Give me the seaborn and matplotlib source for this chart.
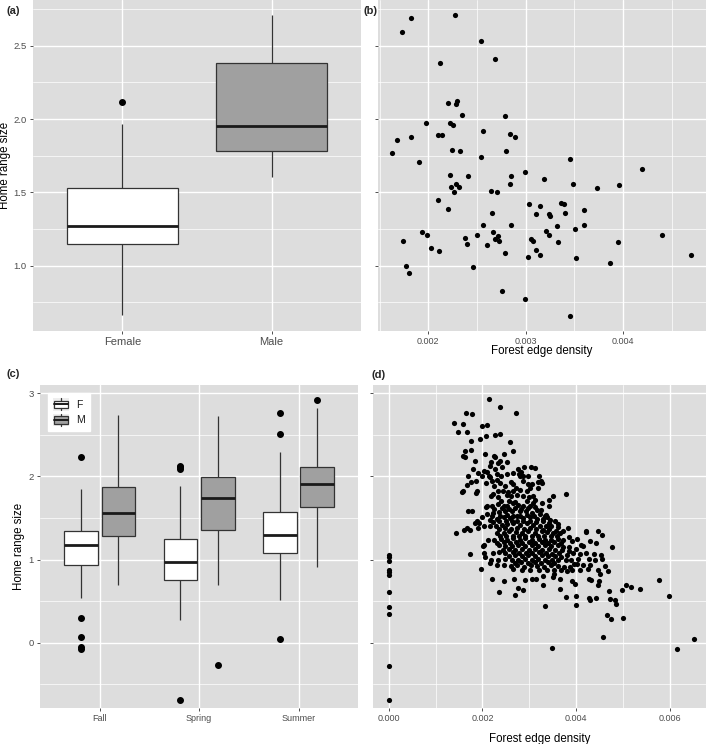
import numpy as np
import pandas as pd
import matplotlib
matplotlib.use("Agg")
import matplotlib.pyplot as plt
import seaborn as sns
from matplotlib.legend_handler import HandlerBase
from matplotlib.patches import Rectangle, Patch
from matplotlib.lines import Line2D
from matplotlib.ticker import FixedLocator, FormatStrFormatter, NullFormatter

# ---------------- data ----------------
# (a) home range size by sex: [lower whisker, Q1, median, Q3, upper whisker]
sex_labels = ["Female", "Male"]
a_female_stats = [0.664, 1.148, 1.270, 1.532, 1.966]
a_female_outliers = [2.116]
a_male_stats = [1.607, 1.780, 1.955, 2.380, 2.709]
a_male_outliers = []

# (b) forest edge density (x 1e-3) vs home range size
b_edge_milli = [1.82, 1.73, 2.27, 2.54, 2.69, 2.12, 2.20, 2.28, 2.30, 2.35, 2.79, 1.98, 2.22, 2.25,
                1.68, 1.82, 2.10, 2.14, 2.56, 2.84, 2.89, 1.63, 2.24, 2.33, 2.80, 2.54, 1.90, 3.46,
                2.99, 4.20, 2.22, 2.41, 2.85, 3.19, 2.23, 2.28, 2.32, 2.26, 2.84, 3.49, 3.73, 3.96,
                2.64, 2.71, 2.10, 2.20, 3.03, 3.15, 3.36, 3.39, 2.65, 3.11, 3.24, 3.25, 3.40, 3.60,
                2.56, 2.85, 3.60, 3.32, 3.51, 3.21, 1.94, 1.99, 2.67, 2.50, 2.38, 2.72, 2.69, 2.73,
                3.24, 3.06, 3.08, 1.74, 2.40, 3.33, 3.95, 4.40, 2.03, 2.11, 2.60, 3.11, 2.79, 3.02,
                3.15, 3.52, 4.70, 3.87, 1.77, 2.46, 1.80, 2.76, 2.99, 3.46]
b_home_range = [2.69, 2.59, 2.71, 2.53, 2.41, 2.38, 2.11, 2.10, 2.12, 2.03, 2.02, 1.97, 1.97, 1.96,
                1.86, 1.88, 1.89, 1.89, 1.92, 1.90, 1.88, 1.77, 1.79, 1.78, 1.78, 1.74, 1.71, 1.73,
                1.64, 1.66, 1.62, 1.61, 1.61, 1.59, 1.54, 1.56, 1.54, 1.50, 1.56, 1.56, 1.53, 1.55,
                1.51, 1.50, 1.45, 1.39, 1.42, 1.41, 1.43, 1.42, 1.36, 1.35, 1.35, 1.34, 1.36, 1.38,
                1.28, 1.28, 1.28, 1.27, 1.25, 1.24, 1.23, 1.21, 1.23, 1.21, 1.19, 1.20, 1.18, 1.17,
                1.21, 1.18, 1.17, 1.17, 1.15, 1.16, 1.16, 1.21, 1.12, 1.10, 1.14, 1.11, 1.09, 1.06,
                1.07, 1.05, 1.07, 1.02, 1.00, 0.99, 0.95, 0.83, 0.77, 0.66]

# (c) seasonal home range by sex
seasons = ["Fall", "Spring", "Summer"]
sex_codes = ["F", "M"]
c_F_stats = {"Fall": [0.538, 0.940, 1.180, 1.344, 1.854],
             "Spring": [0.278, 0.760, 0.976, 1.244, 1.886],
             "Summer": [0.514, 1.084, 1.296, 1.573, 2.295]}
c_F_outliers = {"Fall": [2.235, 0.297, 0.072, -0.056, -0.076],
                "Spring": [2.13, 2.11, 2.09, -0.693],
                "Summer": [2.767, 2.51, 0.04]}
c_M_stats = {"Fall": [0.700, 1.280, 1.566, 1.870, 2.745],
             "Spring": [0.700, 1.356, 1.747, 1.990, 2.733],
             "Summer": [0.910, 1.633, 1.915, 2.120, 2.828]}
c_M_outliers = {"Fall": [], "Spring": [-0.272], "Summer": [2.923]}

# (d) forest edge density (x 1e-3) vs seasonal home range size
d_edge_milli = [2.13, 2.37, 2.71, 1.65, 1.77, 1.40, 1.59, 2.00, 2.10, 1.48, 1.68, 2.08, 2.27, 2.38,
                1.94, 1.76, 2.59, 1.63, 1.75, 1.59, 1.62, 2.06, 2.25, 2.27, 2.64, 2.46, 2.38, 1.85,
                2.19, 2.32, 2.15, 2.52, 1.79, 2.03, 2.09, 2.26, 2.42, 2.76, 2.83, 2.89, 3.04, 3.11,
                1.70, 1.90, 2.00, 2.13, 2.16, 2.31, 2.39, 2.52, 2.64, 2.78, 2.80, 2.87, 2.96, 3.21,
                3.24, 1.58, 1.56, 1.68, 1.76, 1.86, 1.88, 1.87, 2.08, 2.21, 2.25, 2.31, 2.37, 2.47,
                2.60, 2.66, 2.71, 2.86, 2.97, 3.01, 3.06, 3.18, 3.27, 3.18, 3.08, 2.94, 2.80, 2.66,
                2.55, 2.43, 2.32, 2.22, 2.19, 2.34, 2.52, 2.61, 2.74, 2.86, 2.99, 3.42, 3.50, 3.78,
                2.10, 2.08, 2.20, 2.33, 2.45, 2.53, 2.66, 2.76, 2.87, 3.02, 3.08, 3.26, 3.42, 1.69,
                1.77, 2.10, 2.23, 2.36, 2.48, 2.63, 2.79, 2.92, 3.06, 3.16, 3.33, 3.38, 2.00, 2.16,
                2.30, 2.45, 2.59, 2.73, 2.87, 3.01, 3.16, 3.28, 3.44, 3.54, 1.88, 1.83, 1.93, 1.68,
                1.61, 1.73, 1.44, 1.91, 2.03, 2.16, 2.29, 2.41, 2.53, 2.66, 2.80, 2.94, 3.08, 3.23,
                3.35, 3.47, 3.60, 3.82, 4.20, 4.21, 4.46, 4.54, 2.30, 2.45, 2.57, 2.71, 2.84, 2.98,
                3.13, 3.26, 3.38, 3.51, 3.65, 2.12, 2.25, 2.39, 2.52, 2.66, 2.79, 2.91, 3.06, 3.20,
                3.33, 3.47, 3.60, 3.72, 4.01, 4.09, 4.29, 4.42, 4.77, 2.04, 2.02, 2.35, 2.49, 2.62,
                2.76, 2.91, 3.05, 3.19, 3.33, 3.46, 3.60, 3.72, 3.85, 3.99, 4.15, 1.73, 2.03, 2.22,
                2.36, 2.49, 2.64, 2.78, 2.92, 3.06, 3.21, 3.35, 3.49, 3.64, 3.80, 3.92, 4.08, 4.21,
                4.38, 4.53, 2.05, 2.18, 2.32, 2.48, 2.62, 2.76, 2.91, 3.05, 3.19, 3.33, 3.48, 3.62,
                3.77, 3.89, 4.03, 4.26, 4.40, 4.54, 1.96, 2.17, 2.30, 2.46, 2.60, 2.74, 2.89, 3.03,
                3.17, 3.31, 3.45, 3.60, 3.74, 3.87, 4.01, 4.15, 4.29, 4.61, 4.68, 2.66, 2.84, 3.01,
                3.20, 3.37, 3.53, 3.67, 3.80, 3.91, 4.08, 4.24, 4.46, 4.51, 2.20, 2.45, 2.67, 2.90,
                3.05, 3.15, 3.30, 3.52, 3.51, 3.65, 3.90, 3.98, 4.26, 4.32, 4.49, 4.46, 2.35, 2.76,
                2.87, 2.70, 3.29, 3.65, 3.78, 3.99, 3.99, 4.26, 4.30, 4.43, 4.69, 4.71, 4.82, 4.85,
                4.98, 5.07, 5.16, 5.36, 5.76, 5.98, 3.34, 4.65, 4.75, 4.99, 4.56, 3.49, 6.14, 6.50,
                0.0, 0.0, 0.0, 0.0, 0.0, 0.0, 0.0, 0.0, 0.0, 0.0, 0.0,
                # overlapping points inside the dense core
                2.40, 2.57, 2.70, 2.95, 3.12, 2.25, 2.41, 2.56, 2.70, 2.83, 2.98, 3.12, 3.24,
                2.21, 2.37, 2.52, 2.66, 2.80, 2.94, 3.09, 3.22, 3.35,
                2.23, 2.36, 2.50, 2.62, 2.73, 2.87, 3.01, 3.15, 3.29, 3.41, 3.62,
                2.36, 2.49, 2.60, 2.73, 2.88, 3.01, 3.15, 3.29, 3.42, 3.56, 3.72,
                2.38, 2.51, 2.64, 2.77, 2.91, 3.05, 3.19, 3.32, 3.45, 3.58, 3.84,
                2.30, 2.45, 2.58, 2.72, 2.85, 2.99, 3.13, 3.27, 3.40, 3.53, 3.68, 3.90,
                2.44, 2.57, 2.70, 2.85, 2.99, 3.13, 3.27, 3.41, 3.55, 3.70, 3.84,
                2.56, 2.70, 2.84, 2.98, 3.12, 3.26, 3.40, 3.54, 3.68,
                2.70, 2.83, 2.97, 3.11, 3.25, 3.39, 3.53, 3.95]
d_home_range = [2.93, 2.84, 2.77, 2.76, 2.75, 2.64, 2.63, 2.61, 2.62, 2.54, 2.54, 2.49, 2.50, 2.51,
                2.45, 2.43, 2.42, 2.31, 2.32, 2.25, 2.23, 2.27, 2.25, 2.24, 2.31, 2.27, 2.19, 2.19,
                2.17, 2.16, 2.13, 2.17, 2.09, 2.07, 2.05, 2.09, 2.11, 2.09, 2.05, 2.11, 2.11, 2.10,
                2.00, 2.04, 2.01, 2.00, 1.99, 2.03, 2.00, 2.03, 2.04, 2.03, 2.00, 2.00, 2.00, 2.01,
                1.95, 1.83, 1.81, 1.90, 1.93, 1.94, 1.82, 1.80, 1.92, 1.94, 1.88, 1.96, 1.92, 1.89,
                1.93, 1.91, 1.86, 1.95, 1.91, 1.86, 1.91, 1.93, 1.92, 1.86, 1.77, 1.82, 1.84, 1.82,
                1.81, 1.83, 1.83, 1.79, 1.76, 1.75, 1.78, 1.76, 1.78, 1.76, 1.75, 1.72, 1.76, 1.79,
                1.64, 1.63, 1.65, 1.67, 1.65, 1.64, 1.68, 1.66, 1.64, 1.65, 1.68, 1.68, 1.65, 1.59,
                1.59, 1.55, 1.56, 1.57, 1.59, 1.58, 1.58, 1.59, 1.56, 1.60, 1.53, 1.51, 1.51, 1.48,
                1.49, 1.51, 1.50, 1.52, 1.50, 1.51, 1.49, 1.49, 1.48, 1.46, 1.46, 1.44, 1.44, 1.38,
                1.36, 1.36, 1.32, 1.38, 1.41, 1.40, 1.40, 1.42, 1.43, 1.44, 1.42, 1.44, 1.42, 1.40,
                1.41, 1.40, 1.39, 1.38, 1.35, 1.33, 1.34, 1.30, 1.32, 1.32, 1.34, 1.33, 1.32, 1.34,
                1.32, 1.34, 1.33, 1.32, 1.32, 1.24, 1.24, 1.25, 1.24, 1.26, 1.24, 1.26, 1.24, 1.25,
                1.24, 1.24, 1.25, 1.24, 1.25, 1.18, 1.22, 1.20, 1.15, 1.18, 1.16, 1.17, 1.16, 1.16,
                1.18, 1.16, 1.18, 1.16, 1.17, 1.16, 1.17, 1.15, 1.15, 1.13, 1.16, 1.07, 1.08, 1.08,
                1.09, 1.08, 1.09, 1.08, 1.08, 1.08, 1.09, 1.08, 1.07, 1.08, 1.06, 1.08, 1.07, 1.08,
                1.07, 1.05, 1.03, 0.99, 1.00, 1.01, 0.99, 1.00, 1.01, 0.99, 1.01, 0.99, 1.00, 1.00,
                0.99, 0.99, 1.01, 1.01, 0.99, 1.01, 0.89, 0.96, 0.94, 0.93, 0.92, 0.94, 0.91, 0.93,
                0.92, 0.91, 0.93, 0.92, 0.91, 0.91, 0.95, 0.93, 0.94, 0.92, 0.86, 0.89, 0.87, 0.88,
                0.87, 0.88, 0.87, 0.87, 0.86, 0.88, 0.87, 0.89, 0.87, 0.83, 0.77, 0.74, 0.77, 0.75,
                0.77, 0.77, 0.80, 0.83, 0.79, 0.77, 0.74, 0.71, 0.77, 0.75, 0.74, 0.69, 0.61, 0.66,
                0.63, 0.57, 0.70, 0.65, 0.55, 0.56, 0.45, 0.54, 0.51, 0.54, 0.62, 0.52, 0.51, 0.46,
                0.63, 0.69, 0.67, 0.65, 0.76, 0.56, 0.44, 0.33, 0.28, 0.30, 0.07, -0.06, -0.07, 0.04,
                1.05, 1.03, 0.98, 0.87, 0.85, 0.82, 0.61, 0.43, 0.35, -0.28, -0.69,
                # overlapping points inside the dense core
                1.70, 1.71, 1.69, 1.70, 1.72, 1.61, 1.62, 1.61, 1.62, 1.61, 1.62, 1.63, 1.60,
                1.53, 1.53, 1.54, 1.53, 1.53, 1.54, 1.53, 1.55, 1.54,
                1.45, 1.46, 1.47, 1.46, 1.47, 1.46, 1.47, 1.45, 1.46, 1.44, 1.43,
                1.37, 1.38, 1.37, 1.38, 1.37, 1.38, 1.37, 1.36, 1.37, 1.35, 1.34,
                1.29, 1.28, 1.29, 1.28, 1.29, 1.28, 1.29, 1.28, 1.28, 1.29, 1.27,
                1.20, 1.21, 1.20, 1.21, 1.20, 1.21, 1.20, 1.21, 1.20, 1.21, 1.20, 1.22,
                1.12, 1.13, 1.12, 1.13, 1.12, 1.13, 1.12, 1.13, 1.12, 1.11, 1.10,
                1.04, 1.05, 1.04, 1.05, 1.04, 1.05, 1.04, 1.04, 1.03,
                0.96, 0.97, 0.96, 0.97, 0.96, 0.97, 0.96, 0.95]


def box_sample(stats, outliers, k=10, m=5):
    """Sample whose Tukey box statistics equal the given summary."""
    lo, q1, med, q3, hi = stats
    return list(outliers) + [lo] + [q1] * k + [med] * m + [q3] * k + [hi]


rows = []
for lab, st, out in [("Female", a_female_stats, a_female_outliers),
                     ("Male", a_male_stats, a_male_outliers)]:
    rows += [(lab, v) for v in box_sample(st, out)]
df_a = pd.DataFrame(rows, columns=["sex", "hr"])

rows = []
for s in seasons:
    rows += [(s, "F", v) for v in box_sample(c_F_stats[s], c_F_outliers[s])]
    rows += [(s, "M", v) for v in box_sample(c_M_stats[s], c_M_outliers[s])]
df_c = pd.DataFrame(rows, columns=["season", "sex", "hr"])

df_b = pd.DataFrame({"edge": np.array(b_edge_milli) / 1000.0, "hr": b_home_range})
df_d = pd.DataFrame({"edge": np.array(d_edge_milli) / 1000.0, "hr": d_home_range})

# ---------------- style ----------------
sns.set_theme(style="darkgrid")
plt.rcParams['font.family'] = ['Liberation Sans', 'DejaVu Sans']
BG = "#DDDDDD"
GREY_FILL = "#A0A0A0"
EDGE = "#333333"
TICKC = "#4D4D4D"

W, H = 709, 744
fig = plt.figure(figsize=(W / 100, H / 100), dpi=100)
fig.patch.set_facecolor("white")


def px_axes(l, t, r, b):
    return fig.add_axes([l / W, (H - b) / H, (r - l) / W, (b - t) / H])


axa = px_axes(33, 0, 361, 331)
axb = px_axes(377.7, 0, 706, 331)
axc = px_axes(40, 385, 358.3, 707.7)
axd = px_axes(373.3, 385, 706, 707.7)


def style_axes(ax, xsize, ysize):
    ax.set_facecolor(BG)
    for sp in ax.spines.values():
        sp.set_visible(False)
    ax.grid(which="major", color="white", linewidth=1.0)
    ax.grid(which="minor", color="white", linewidth=0.5)
    ax.tick_params(which="major", length=2.5, width=0.6, color=EDGE, pad=2)
    ax.tick_params(which="minor", length=0)
    ax.tick_params(axis="x", labelsize=xsize, labelcolor=TICKC, bottom=True)
    ax.tick_params(axis="y", labelsize=ysize, labelcolor=TICKC, left=True)
    ax.set_axisbelow(True)


box_kws = dict(saturation=1, linecolor=EDGE, linewidth=0.9, showcaps=False,
               medianprops=dict(color="#1A1A1A", linewidth=2.0),
               flierprops=dict(marker="o", markerfacecolor="black",
                               markeredgecolor="black", markersize=4))

# ---- (a)
sns.boxplot(data=df_a, x="sex", y="hr", hue="sex", order=sex_labels,
            palette={"Female": "white", "Male": GREY_FILL}, width=0.75,
            legend=False, ax=axa, **box_kws)
style_axes(axa, 8, 6.8)
axa.set_xlim(-0.6, 1.6)
axa.set_ylim(0.555, 2.8115)
axa.yaxis.set_major_locator(FixedLocator([1.0, 1.5, 2.0, 2.5]))
axa.yaxis.set_minor_locator(FixedLocator([0.75, 1.25, 1.75, 2.25, 2.75]))
axa.yaxis.set_major_formatter(FormatStrFormatter("%.1f"))
axa.xaxis.grid(True, which="major", color="white", linewidth=1.0)
axa.set_xlabel("")
axa.set_ylabel("Home range size", fontsize=8.3, color="black")
axa.yaxis.set_label_coords(-22 / 328, 0.5)

# ---- (b)
sns.scatterplot(data=df_b, x="edge", y="hr", color="black", s=14, linewidth=0, ax=axb)
style_axes(axb, 6.5, 6.5)
axb.set_xlim(0.00148, 0.004854)
axb.set_ylim(0.555, 2.8115)
axb.xaxis.set_major_locator(FixedLocator([0.002, 0.003, 0.004]))
axb.xaxis.set_minor_locator(FixedLocator([0.0015, 0.0025, 0.0035, 0.0045]))
axb.xaxis.set_major_formatter(FormatStrFormatter("%.3f"))
axb.yaxis.set_major_locator(FixedLocator([1.0, 1.5, 2.0, 2.5]))
axb.yaxis.set_minor_locator(FixedLocator([0.75, 1.25, 1.75, 2.25, 2.75]))
axb.yaxis.set_major_formatter(NullFormatter())
axb.set_ylabel("")
axb.set_xlabel("Forest edge density", fontsize=8.3, color="black")
axb.xaxis.set_label_coords(0.5, -14 / 331)

# ---- (c)
sns.boxplot(data=df_c, x="season", y="hr", hue="sex", order=seasons, hue_order=sex_codes,
            palette={"F": "white", "M": GREY_FILL}, width=0.75, gap=0.1,
            legend=False, ax=axc, **box_kws)
style_axes(axc, 6.5, 6.8)
axc.set_xlim(-0.6, 2.6)
axc.set_ylim(-0.782, 3.101)
axc.yaxis.set_major_locator(FixedLocator([0, 1, 2, 3]))
axc.yaxis.set_minor_locator(FixedLocator([-0.5, 0.5, 1.5, 2.5]))
axc.xaxis.grid(True, which="major", color="white", linewidth=1.0)
axc.set_xlabel("")
axc.set_ylabel("Home range size", fontsize=8.3, color="black")
axc.yaxis.set_label_coords(-15 / 318.3, 0.5)


class BoxKeyHandler(HandlerBase):
    def create_artists(self, legend, orig_handle, xdescent, ydescent, width, height,
                       fontsize, trans):
        fc = orig_handle.get_facecolor()
        x0, y0 = -xdescent, -ydescent
        bg = Rectangle((x0, y0), width, height, facecolor="#EEEEEE",
                       edgecolor="none", transform=trans)
        bw = width * 0.84
        bx = x0 + (width - bw) / 2
        by = y0 + height * 0.2
        bh = height * 0.6
        box = Rectangle((bx, by), bw, bh, facecolor=fc, edgecolor=EDGE,
                        linewidth=0.9, transform=trans)
        cx = x0 + width / 2
        w1 = Line2D([cx, cx], [y0 + height * 0.02, by], color=EDGE, lw=0.9, transform=trans)
        w2 = Line2D([cx, cx], [by + bh, y0 + height * 0.98], color=EDGE, lw=0.9, transform=trans)
        med = Line2D([bx, bx + bw], [by + bh / 2] * 2, color="#1A1A1A", lw=1.4, transform=trans)
        return [bg, box, w1, w2, med]


handles = [Patch(facecolor="white", label="F"), Patch(facecolor=GREY_FILL, label="M")]
leg = axc.legend(handles=handles, labels=["F", "M"], loc="upper left",
                 bbox_to_anchor=(8 / 318.3, 1 - 8 / 322.7), borderaxespad=0,
                 frameon=True, fancybox=False, facecolor="white", edgecolor="white",
                 framealpha=1, fontsize=7.5, handlelength=1.5, handleheight=1.45,
                 handletextpad=0.7, labelspacing=0.3, borderpad=0.5,
                 handler_map={Patch: BoxKeyHandler()})
for t in leg.get_texts():
    t.set_color("#1A1A1A")

# ---- (d)
sns.scatterplot(data=df_d, x="edge", y="hr", color="black", s=14, linewidth=0, ax=axd)
style_axes(axd, 6.5, 6.5)
axd.set_xlim(-0.000328, 0.006765)
axd.set_ylim(-0.782, 3.101)
axd.xaxis.set_major_locator(FixedLocator([0.0, 0.002, 0.004, 0.006]))
axd.xaxis.set_minor_locator(FixedLocator([0.001, 0.003, 0.005]))
axd.xaxis.set_major_formatter(FormatStrFormatter("%.3f"))
axd.yaxis.set_major_locator(FixedLocator([0, 1, 2, 3]))
axd.yaxis.set_minor_locator(FixedLocator([-0.5, 0.5, 1.5, 2.5]))
axd.yaxis.set_major_formatter(NullFormatter())
axd.set_ylabel("")
axd.set_xlabel("Forest edge density", fontsize=8.3, color="black")
axd.xaxis.set_label_coords(0.5, -25 / 322.7)

# ---- panel tags
for txt, xp, yp in [("(a)", 6, 10.5), ("(b)", 363, 11), ("(c)", 6, 373.5), ("(d)", 372, 375)]:
    fig.text(xp / W, 1 - yp / H, txt, fontsize=8, fontweight="bold", ha="left", va="center")

fig.savefig("out.png", dpi=100, facecolor="white")
